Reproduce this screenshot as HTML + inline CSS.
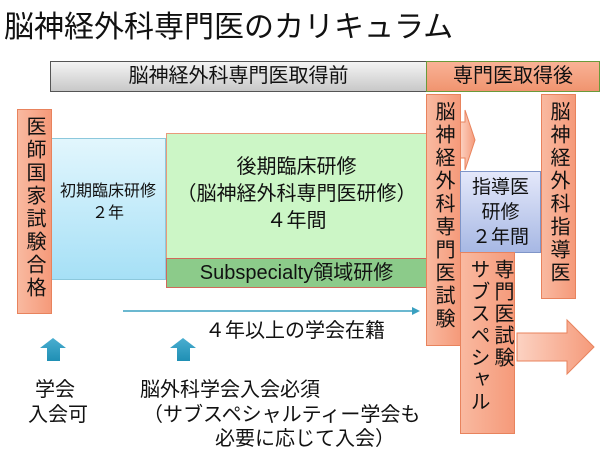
<!DOCTYPE html>
<html><head><meta charset="utf-8"><style>
body{margin:0;width:600px;height:455px;background:#fff;position:relative;overflow:hidden;font-family:"Liberation Sans","Noto Sans CJK JP",sans-serif;color:#111}
.a{position:absolute;box-sizing:border-box}
.v{writing-mode:vertical-rl;text-orientation:upright;font-size:20px;line-height:34px;letter-spacing:3px;text-align:left}
.or{background:linear-gradient(90deg,#f9b9a0,#f59a7a);border:1px solid #e8835d}
.t{position:absolute;white-space:nowrap;font-size:20px}
</style></head><body>
<div class="t" style="left:4px;top:2px;font-size:30px">脳神経外科専門医のカリキュラム</div>
<div class="a" style="left:50px;top:61px;width:377px;height:31px;background:linear-gradient(#f4f4f4,#c8c8c8);border:1px solid #555;font-size:20px;text-align:center;line-height:29px">脳神経外科専門医取得前</div>
<div class="a" style="left:426px;top:61px;width:174px;height:31px;background:linear-gradient(#f9b296,#f0946f);border:1px solid #6a9a3a;font-size:20px;text-align:center;line-height:29px">専門医取得後</div>

<div class="a" style="left:50px;top:138px;width:116px;height:142px;background:linear-gradient(#e2f6fd,#a6e0f6);border:1px solid #8cc8dc;font-size:16px;text-align:center;padding-top:42px;line-height:22px">初期臨床研修<br>２年</div>
<div class="a or v" style="left:17px;top:109px;width:35px;height:205px;padding-top:6px">医師国家試験合格</div>

<div class="a" style="left:166px;top:133px;width:261px;height:126px;background:#ccf6c6;border:1px solid #e89a7a;border-bottom:none;font-size:20px;text-align:center;padding-top:20px;line-height:27px">後期臨床研修<br>（脳神経外科専門医研修）<br>４年間</div>
<div class="a" style="left:166px;top:258px;width:261px;height:30px;background:#8ccb8a;border:1px solid #d06a5a;font-size:20px;text-align:center;line-height:28px">Subspecialty領域研修</div>

<svg class="a" style="left:0;top:0" width="600" height="455">
<defs><linearGradient id="g" x1="0" x2="1"><stop offset="0" stop-color="#fcd2c2"/><stop offset="1" stop-color="#f59a7a"/></linearGradient>
<linearGradient id="b" x1="0" y1="0" x2="0" y2="1"><stop offset="0" stop-color="#4aaed0"/><stop offset="1" stop-color="#1f8fb4"/></linearGradient></defs>
<polygon points="460,122 465,122 465,110 475,140 465,170 465,158 460,158" fill="url(#g)" stroke="#e8835d"/>
<polygon points="517,333 567,333 567,320 594,347 567,374 567,361 517,361" fill="url(#g)" stroke="#e8835d"/>
<line x1="123" y1="311" x2="416" y2="311" stroke="#3aa0c0" stroke-width="1.5"/>
<polygon points="420,311 412,307 412,315" fill="#3aa0c0"/>
<polygon points="53,338 66,348 60,348 60,361 47,361 47,348 40,348" fill="url(#b)"/>
<polygon points="183,338 196,348 190,348 190,361 177,361 177,348 170,348" fill="url(#b)"/>
</svg>

<div class="a or v" style="left:426px;top:94px;width:35px;height:252px;padding-top:6px">脳神経外科専門医試験</div>
<div class="a" style="left:460px;top:171px;width:81px;height:82px;background:linear-gradient(#e4e8fa,#a7b8e4);border:1px solid #7f95c8;font-size:19px;text-align:center;line-height:25px;padding-top:3px">指導医<br>研修<br>２年間</div>
<div class="a or v" style="left:460px;top:252px;width:55px;height:182px;padding-top:6px;line-height:24px;letter-spacing:2px">専門医試験<br>サブスペシャル</div>
<div class="a or v" style="left:541px;top:94px;width:35px;height:205px;padding-top:6px">脳神経外科指導医</div>

<div class="t" style="left:205px;top:314px">４年以上の学会在籍</div>
<div class="t" style="left:35px;top:373px">学会</div>
<div class="t" style="left:28px;top:398px">入会可</div>
<div class="t" style="left:140px;top:373px">脳外科学会入会必須</div>
<div class="t" style="left:143px;top:398px">（サブスペシャルティー学会も</div>
<div class="t" style="left:215px;top:422px">必要に応じて入会）</div>
</body></html>
